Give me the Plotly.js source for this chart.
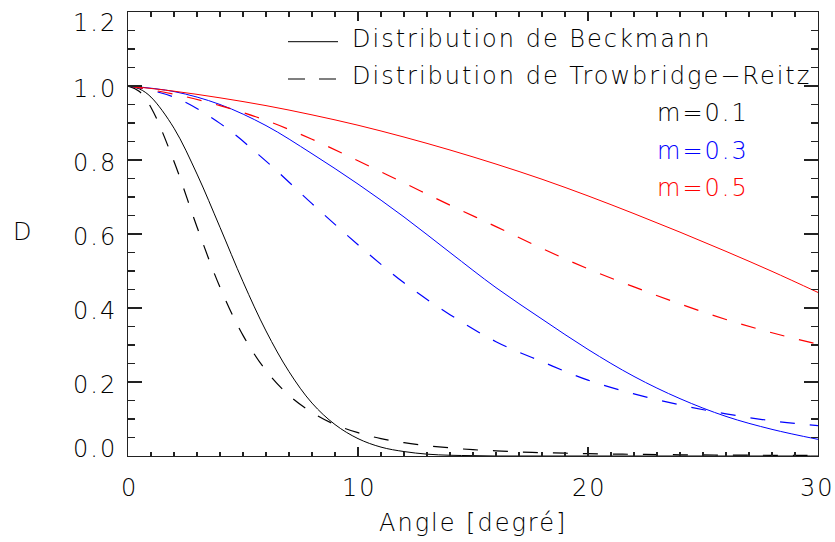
<!DOCTYPE html>
<html>
<head>
<meta charset="utf-8">
<script src="https://cdn.plot.ly/plotly-3.0.1.min.js"></script>
<style>
html,body{margin:0;padding:0;background:#fff;}
#chart{width:835px;height:542px;}
.annotation-text{letter-spacing:2px;}
</style>
</head>
<body>
<div id="chart"></div>
<script>
// ---- data ----
const angleBlack = [0,0.5,1,2,3,4,5,6,7,8,9,10,11,12,13,14,15,16,17,18,19,20,21,22,23,24,25,26,27,28,29,30];
const beckmann01 = [1.000,0.992,0.970,0.886,0.762,0.618,0.471,0.338,0.228,0.143,0.085,0.047,0.024,0.012,0.005,0.002,0.001,0,0,0,0,0,0,0,0,0,0,0,0,0,0,0];
const trowbridge01 = [1.000,0.985,0.942,0.796,0.619,0.456,0.326,0.231,0.164,0.118,0.085,0.063,0.047,0.036,0.028,0.022,0.017,0.014,0.011,0.009,0.0076,0.0063,0.0053,0.0045,0.0039,0.0033,0.0029,0.0025,0.0022,0.0019,0.0017,0.0015];

const angleColor = [0,2,4,6,8,10,12,14,16,18,20,22,24,26,28,30];
const beckmann03 = [1.000,0.985,0.950,0.893,0.817,0.735,0.646,0.550,0.455,0.370,0.288,0.215,0.155,0.107,0.072,0.045];
const trowbridge03 = [1.000,0.970,0.899,0.797,0.682,0.571,0.468,0.382,0.309,0.255,0.205,0.168,0.138,0.114,0.095,0.082];
const beckmann05 = [1.000,0.986,0.968,0.947,0.922,0.894,0.862,0.827,0.789,0.748,0.703,0.655,0.605,0.553,0.499,0.442];
const trowbridge05 = [1.000,0.978,0.947,0.907,0.856,0.798,0.738,0.678,0.620,0.561,0.506,0.457,0.411,0.369,0.333,0.302];

const xTickVals = [0,10,20,30];
const xTickText = ['0','10','20','30'];
const yTickVals = [0,0.2,0.4,0.6,0.8,1.0,1.2];
const yTickText = ['0.0','0.2','0.4','0.6','0.8','1.0','1.2'];

const xTitle = 'Angle [degré]';
const yTitle = 'D';
const legendLabels = ['Distribution de Beckmann', 'Distribution de Trowbridge\u2212Reitz'];
const mLabels = ['m=0.1','m=0.3','m=0.5'];
const mColors = ['#000000','#0000ff','#ff0000'];

// ---- layout geometry (pixels) ----
const L = 128, T = 12, W = 690, H = 444;
const FIG_W = 835, FIG_H = 542;
function px(xp){ return (xp - L) / W; }
function py(yp){ return (T + H - yp) / H; }

const FONT = {family: '"DejaVu Sans ExtraLight","DejaVu Sans",sans-serif', size: 24, color: '#000', weight: 200};
const DASH = '15px,15px';

const traces = [
  {x: angleBlack, y: beckmann01, line: {color: mColors[0], width: 1, shape: 'spline'}},
  {x: angleBlack, y: trowbridge01, line: {color: mColors[0], width: 1.2, dash: DASH, shape: 'spline'}},
  {x: angleColor, y: beckmann03, line: {color: mColors[1], width: 1, shape: 'spline'}},
  {x: angleColor, y: trowbridge03, line: {color: mColors[1], width: 1.2, dash: DASH, shape: 'spline'}},
  {x: angleColor, y: beckmann05, line: {color: mColors[2], width: 1, shape: 'spline'}},
  {x: angleColor, y: trowbridge05, line: {color: mColors[2], width: 1.2, dash: DASH, shape: 'spline'}}
].map(t => Object.assign({type: 'scatter', mode: 'lines', showlegend: false, hoverinfo: 'skip'}, t));

const annotations = [];
// y tick labels
yTickVals.forEach((v, i) => {
  let ys = -3;
  if (i === 0) ys = 7;
  if (i === yTickVals.length - 1) ys = -10.5;
  annotations.push({x: 0, xref: 'paper', y: v, yref: 'y', text: yTickText[i], showarrow: false,
    xanchor: 'right', yanchor: 'middle', xshift: -9, yshift: ys, font: FONT});
});
// x tick labels
xTickVals.forEach((v, i) => {
  annotations.push({x: v, xref: 'x', y: 0, yref: 'paper', text: xTickText[i], showarrow: false,
    xanchor: 'center', yanchor: 'middle', xshift: (i === xTickVals.length - 1) ? -1 : 1, yshift: -32, font: FONT});
});
// axis titles
annotations.push({x: px(473), xref: 'paper', y: py(522.5), yref: 'paper', text: xTitle, showarrow: false,
  xanchor: 'center', yanchor: 'middle', font: FONT});
annotations.push({x: px(23), xref: 'paper', y: py(232), yref: 'paper', text: yTitle, showarrow: false,
  xanchor: 'center', yanchor: 'middle', font: FONT});
// legend texts
const legendY = [38.8, 75.8];
legendLabels.forEach((s, i) => {
  annotations.push({x: px(350), xref: 'paper', y: py(legendY[i]), yref: 'paper', text: s, showarrow: false,
    xanchor: 'left', yanchor: 'middle', font: FONT});
});
const mY = [113.4, 150.7, 188];
mLabels.forEach((s, i) => {
  annotations.push({x: px(655), xref: 'paper', y: py(mY[i]), yref: 'paper', text: s, showarrow: false,
    xanchor: 'left', yanchor: 'middle', font: Object.assign({}, FONT, {color: mColors[i]})});
});

const shapes = [
  {type: 'line', xref: 'paper', yref: 'paper', x0: px(288), x1: px(338), y0: py(41.7), y1: py(41.7),
   line: {color: '#000', width: 1}},
  {type: 'line', xref: 'paper', yref: 'paper', x0: px(288), x1: px(336), y0: py(79), y1: py(79),
   line: {color: '#000', width: 1.2, dash: '17px,14px'}}
];

const axisCommon = {
  showgrid: false, zeroline: false, showline: true, linecolor: '#222', linewidth: 1.3,
  mirror: 'allticks', ticks: 'inside', tickcolor: '#222', tickwidth: 1.2,
  showticklabels: false, tickmode: 'array', fixedrange: true
};

const layout = {
  width: FIG_W, height: FIG_H,
  margin: {l: L, r: FIG_W - L - W, t: T, b: FIG_H - T - H, pad: 0},
  paper_bgcolor: '#fff', plot_bgcolor: '#fff',
  showlegend: false,
  font: FONT,
  xaxis: Object.assign({}, axisCommon, {range: [0, 30], tickvals: xTickVals, ticklen: 9,
    minor: {dtick: 1, tick0: 0, ticks: 'inside', ticklen: 4.5, tickcolor: '#222', tickwidth: 1.1}}),
  yaxis: Object.assign({}, axisCommon, {range: [0, 1.2], tickvals: yTickVals, ticklen: 14,
    minor: {dtick: 0.05, tick0: 0, ticks: 'inside', ticklen: 7, tickcolor: '#222', tickwidth: 1.1}}),
  annotations: annotations,
  shapes: shapes
};

Plotly.newPlot('chart', traces, layout, {staticPlot: true, displayModeBar: false});
</script>
</body>
</html>
